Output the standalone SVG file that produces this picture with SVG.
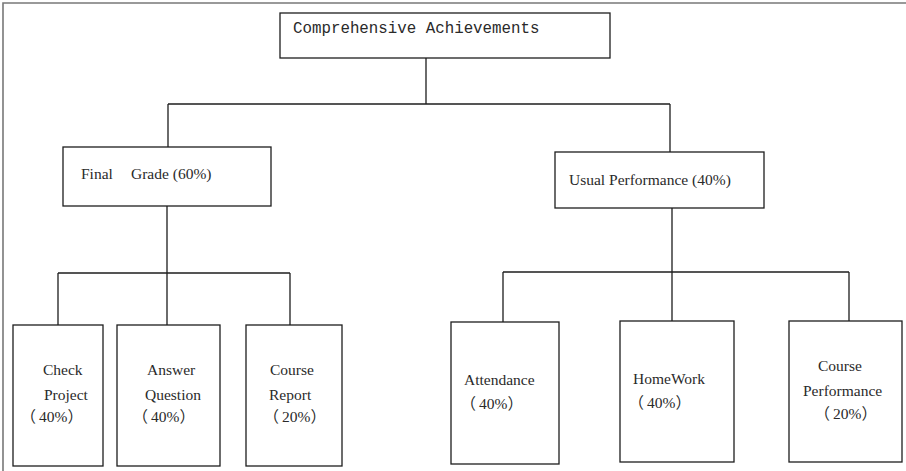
<svg xmlns="http://www.w3.org/2000/svg" width="906" height="471" viewBox="0 0 906 471">
  <style>
    .box { fill: #ffffff; stroke: #1e1e1e; stroke-width: 1.3; }
    .link { fill: none; stroke: #1e1e1e; stroke-width: 1.3; }
    .frame { fill: none; stroke: #787878; stroke-width: 1.6; }
    .lbl { font-family: "Liberation Serif", "Noto Sans CJK SC", serif; font-size: 15.5px; fill: #2a2a2a; }
    .cjk { font-family: "Liberation Serif", "Noto Sans CJK SC", serif; font-size: 15.5px; fill: #2a2a2a; }
    .mono { font-family: "Liberation Mono", "DejaVu Sans Mono", monospace; font-size: 15.8px; fill: #2a2a2a; }
  </style>
  <rect x="0" y="0" width="906" height="471" fill="#ffffff"/>
  <!-- page frame -->
  <path class="frame" d="M3,471 V3 H906"/>

  <!-- tree connectors -->
  <g id="connectors">
    <path class="link" d="M426,58 V104 M168,104 H670 M168,104 V147 M670,104 V152"/>
    <path class="link" d="M167,206 V273 M58,273 H290 M58,273 V325 M167,273 V325 M290,273 V325"/>
    <path class="link" d="M672,208 V272 M503,272 H849 M503,272 V322 M672,272 V321 M849,272 V321"/>
  </g>

  <g id="root">
    <rect class="box" x="280" y="13" width="330" height="45"/>
    <text class="mono" x="293" y="33">Comprehensive Achievements</text>
  </g>

  <g id="final-grade">
    <rect class="box" x="63" y="147" width="208" height="59"/>
    <text class="lbl" x="81" y="179">Final<tspan x="131">Grade (60%)</tspan></text>
  </g>

  <g id="usual-performance">
    <rect class="box" x="555" y="152" width="209" height="56"/>
    <text class="lbl" x="569" y="185">Usual Performance (40%)</text>
  </g>

  <g id="check-project">
    <rect class="box" x="13" y="325" width="90" height="141"/>
    <text class="lbl" x="43" y="375">Check</text>
    <text class="lbl" x="44" y="400">Project</text>
    <text class="cjk" x="20.5" y="422">（<tspan dx="3">40%）</tspan></text>
  </g>

  <g id="answer-question">
    <rect class="box" x="117" y="325" width="103" height="141"/>
    <text class="lbl" x="147" y="375">Answer</text>
    <text class="lbl" x="145" y="400">Question</text>
    <text class="cjk" x="132.5" y="422">（<tspan dx="3">40%）</tspan></text>
  </g>

  <g id="course-report">
    <rect class="box" x="246" y="325" width="96" height="141"/>
    <text class="lbl" x="270" y="375">Course</text>
    <text class="lbl" x="269" y="400">Report</text>
    <text class="cjk" x="263.5" y="422">（<tspan dx="3">20%）</tspan></text>
  </g>

  <g id="attendance">
    <rect class="box" x="451" y="322" width="108" height="142"/>
    <text class="lbl" x="464" y="385">Attendance</text>
    <text class="cjk" x="460.5" y="409">（<tspan dx="3">40%）</tspan></text>
  </g>

  <g id="homework">
    <rect class="box" x="620" y="321" width="114" height="141"/>
    <text class="lbl" x="633" y="384">HomeWork</text>
    <text class="cjk" x="628.5" y="408">（<tspan dx="3">40%）</tspan></text>
  </g>

  <g id="course-performance">
    <rect class="box" x="789" y="321" width="113" height="141"/>
    <text class="lbl" x="818" y="371">Course</text>
    <text class="lbl" x="803" y="396">Performance</text>
    <text class="cjk" x="814.5" y="419">（<tspan dx="3">20%）</tspan></text>
  </g>
</svg>
